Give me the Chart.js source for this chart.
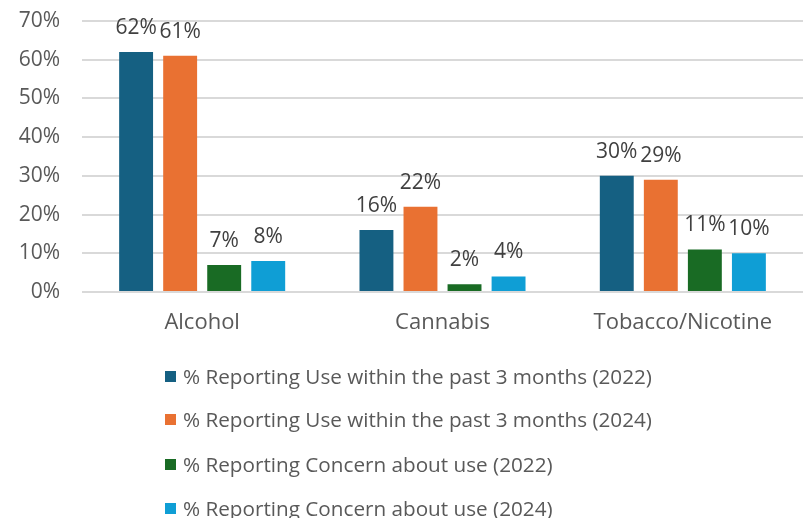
<!DOCTYPE html>
<html>
<head>
<meta charset="utf-8">
<script src="https://cdn.jsdelivr.net/npm/chart.js@4.4.1/dist/chart.umd.min.js"></script>
<style>
  html, body { margin: 0; padding: 0; background: #ffffff; }
  #wrap { position: relative; width: 807px; height: 518px; overflow: hidden; }
  canvas { position: absolute; left: 0; top: 0; }
  #legend { position: absolute; left: 165px; top: 0; font-family: "Open Sans", sans-serif; font-size: 20.7px; color: #595959; }
  .item { position: absolute; left: 0; white-space: nowrap; display: flex; align-items: center; height: 30px; }
  .sw { width: 11px; height: 11px; margin-right: 7px; flex: none; }
</style>
</head>
<body>
<div id="wrap">
  <canvas id="c" width="807" height="518"></canvas>
  <div id="legend"></div>
</div>
<script>
const categories = ["Alcohol", "Cannabis", "Tobacco/Nicotine"];
const seriesLabels = [
  "% Reporting Use within the past 3 months (2022)",
  "% Reporting Use within the past 3 months (2024)",
  "% Reporting Concern about use (2022)",
  "% Reporting Concern about use (2024)"
];
const useRecent2022 = [62, 16, 30];
const useRecent2024 = [61, 22, 29];
const concern2022 = [7, 2, 11];
const concern2024 = [8, 4, 10];
const yTicks = [0, 10, 20, 30, 40, 50, 60, 70];
const seriesColors = ["#156082", "#E97132", "#196B24", "#0F9ED5"];

const seriesValues = [useRecent2022, useRecent2024, concern2022, concern2024];

const valueLabels = {
  id: "valueLabels",
  afterDatasetsDraw(chart) {
    const ctx = chart.ctx;
    ctx.save();
    ctx.font = "21px 'Open Sans', sans-serif";
    ctx.fillStyle = "#404040";
    ctx.textAlign = "center";
    ctx.textBaseline = "middle";
    chart.data.datasets.forEach((ds, i) => {
      const meta = chart.getDatasetMeta(i);
      meta.data.forEach((bar, j) => {
        ctx.fillText(ds.data[j] + "%", bar.x, bar.y - 24);
      });
    });
    ctx.restore();
  }
};

const chart = new Chart(document.getElementById("c"), {
  type: "bar",
  data: {
    labels: categories,
    datasets: seriesValues.map((vals, i) => ({
      label: seriesLabels[i],
      data: vals,
      backgroundColor: seriesColors[i],
      borderWidth: 0,
      categoryPercentage: 0.733,
      barPercentage: 0.77
    }))
  },
  options: {
    responsive: false,
    animation: false,
    events: [],
    layout: { padding: { top: 21, right: 4, bottom: 0, left: 0 } },
    plugins: { legend: { display: false }, tooltip: { enabled: false } },
    scales: {
      x: {
        grid: { display: false, drawTicks: false },
        border: { display: false },
        ticks: {
          padding: 18,
          color: "#595959",
          font: { family: "'Open Sans', sans-serif", size: 22 }
        },
        afterFit(scale) { scale.height = 226; }
      },
      y: {
        min: 0,
        max: 70,
        afterBuildTicks(scale) { scale.ticks = yTicks.map(v => ({ value: v })); },
        grid: { color: "#d9d9d9", lineWidth: 2, drawTicks: false },
        border: { display: false },
        ticks: {
          padding: 22,
          color: "#595959",
          font: { family: "'Open Sans', sans-serif", size: 21 },
          callback: v => v + "%"
        },
        afterFit(scale) { scale.width = 82; scale.paddingTop = 0; scale.paddingBottom = 0; }
      }
    }
  },
  plugins: [valueLabels]
});

const legendTops = [376, 419, 464, 508];
const legend = document.getElementById("legend");
seriesLabels.forEach((lab, i) => {
  const it = document.createElement("div");
  it.className = "item";
  it.style.top = (legendTops[i] - 15) + "px";
  const sw = document.createElement("span");
  sw.className = "sw";
  sw.style.background = seriesColors[i];
  const tx = document.createElement("span");
  tx.textContent = lab;
  it.appendChild(sw);
  it.appendChild(tx);
  legend.appendChild(it);
});
</script>
</body>
</html>
